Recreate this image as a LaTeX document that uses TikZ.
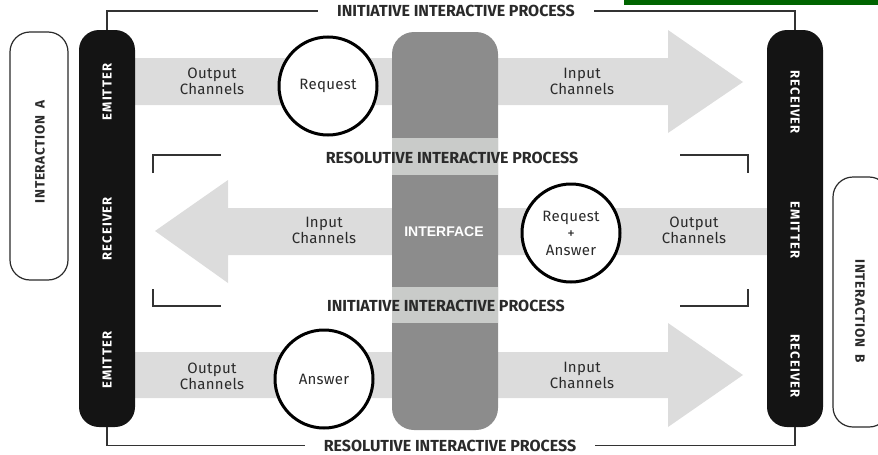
\documentclass[tikz,border=0pt]{standalone}
\usepackage{fontspec}
\setmainfont{Fira Sans}
\newfontfamily\ifacefont{Liberation Sans}
\definecolor{barblack}{HTML}{141414}
\definecolor{arrowgray}{HTML}{DCDCDC}
\definecolor{ifacegray}{HTML}{8C8C8C}
\definecolor{bandgray}{HTML}{C9CBC9}
\definecolor{txtdark}{HTML}{2A2A2A}
\definecolor{lineclr}{HTML}{333333}
\definecolor{stripgreen}{HTML}{006400}
\tikzset{
  blackbar/.style={draw=none, fill=barblack, rounded corners=20pt, minimum width=56pt, minimum height=397pt, inner sep=0pt},
  interbox/.style={draw=txtdark, line width=1.2pt, fill=white, rounded corners=20pt, inner sep=0pt},
  ifacebar/.style={draw=none, fill=ifacegray, rounded corners=22pt, minimum width=106pt, minimum height=398pt, inner sep=0pt},
  msgcircle/.style={circle, draw=black, line width=3pt, fill=white, minimum size=98pt, inner sep=0pt, align=center, text=txtdark, font=\fontsize{15}{17}\selectfont\addfontfeatures{LetterSpace=2}},
  chanlabel/.style={align=center, text=txtdark, font=\fontsize{15}{16}\selectfont\addfontfeatures{LetterSpace=2}, inner sep=0pt},
  heading/.style={text=txtdark, font=\bfseries\fontsize{16}{18}\selectfont, inner ysep=0pt, inner xsep=19pt},
  bartext/.style={text=white, font=\bfseries\fontsize{13}{15}\selectfont\addfontfeatures{LetterSpace=9}, inner sep=0pt},
  intertext/.style={text=txtdark, font=\bfseries\fontsize{13.5}{15}\selectfont\addfontfeatures{LetterSpace=5}, inner sep=0pt},
  conn/.style={draw=lineclr, line width=1.6pt},
  arrowband/.style={fill=arrowgray, draw=none}
}
\begin{document}
\begin{tikzpicture}[x=1pt,y=-1pt]
\useasboundingbox (0,0) rectangle (878,455);
% strip at top right
\fill[stripgreen] (624,0) rectangle (878,5);
% arrows
\fill[arrowband] (135,58) -- (668,58) -- (668,30) -- (743,82) -- (668,133) -- (668,105) -- (135,105) -- cycle;
\fill[arrowband] (767,208) -- (228,208) -- (228,180) -- (155,231) -- (228,283) -- (228,255) -- (767,255) -- cycle;
\fill[arrowband] (135,352) -- (668,352) -- (668,323) -- (743,375) -- (668,427) -- (668,398) -- (135,398) -- cycle;
% interface
\node[ifacebar] (iface) at (445,231) {};
\fill[bandgray] (392,138) rectangle (498,175);
\fill[bandgray] (392,287) rectangle (498,323);
\node[text=white, font=\ifacefont\bfseries\fontsize{14}{16}\selectfont, inner sep=0pt] (ifacelbl) at (444,232) {INTERFACE};
% interaction boxes
\node[interbox, minimum width=58pt, minimum height=248pt] (intA) at (39,156) {};
\node[interbox, minimum width=56pt, minimum height=250pt] (intB) at (861,302) {};
\node[intertext, rotate=90] (intAlbl) at (40,152) {INTERACTION\hspace{7pt}A};
\node[intertext, rotate=-90] (intBlbl) at (860,311) {INTERACTION\hspace{7pt}B};
% black bars
\node[blackbar] (barL) at (107,228.5) {};
\node[blackbar] (barR) at (795,228.5) {};
\node[bartext, rotate=90] (emL1) at (107,92) {EMITTER};
\node[bartext, rotate=90] (reL) at (107,229) {RECEIVER};
\node[bartext, rotate=90] (emL2) at (107,360) {EMITTER};
\node[bartext, rotate=-90] (reR1) at (795,102) {RECEIVER};
\node[bartext, rotate=-90] (emR) at (795,230) {EMITTER};
\node[bartext, rotate=-90] (reR2) at (795,366) {RECEIVER};
% circles
\node[msgcircle] (req) at (328,86) {Request};
\node[msgcircle] (reqans) at (571,233) {Request\\+\\Answer};
\node[msgcircle] (ans) at (324,379) {Answer};
% channel labels
\node[chanlabel] (oc1) at (212,81) {Output\\Channels};
\node[chanlabel] (ic1) at (582,81) {Input\\Channels};
\node[chanlabel] (ic2) at (324,230) {Input\\Channels};
\node[chanlabel] (oc2) at (694,230) {Output\\Channels};
\node[chanlabel] (oc3) at (212,376) {Output\\Channels};
\node[chanlabel] (ic3) at (582,375) {Input\\Channels};
% headings
\node[heading] (h1) at (456,11) {INITIATIVE INTERACTIVE PROCESS};
\node[heading] (h2) at (452,158) {RESOLUTIVE INTERACTIVE PROCESS};
\node[heading] (h3) at (446,306) {INITIATIVE INTERACTIVE PROCESS};
\node[heading] (h4) at (450,445.5) {RESOLUTIVE INTERACTIVE PROCESS};
% connectors
\draw[conn] (barL.north) |- (h1.west);
\draw[conn] (h1.east) -| (barR.north);
\draw[conn] (barL.south) |- (h4.west);
\draw[conn] (h4.east) -| (barR.south);
% middle brackets
\draw[conn] (153,173) -- (153,155) -- (221,155);
\draw[conn] (153,289) -- (153,306) -- (221,306);
\draw[conn] (680,155) -- (748,155) -- (748,173);
\draw[conn] (680,306) -- (748,306) -- (748,289);
\end{tikzpicture}
\end{document}
